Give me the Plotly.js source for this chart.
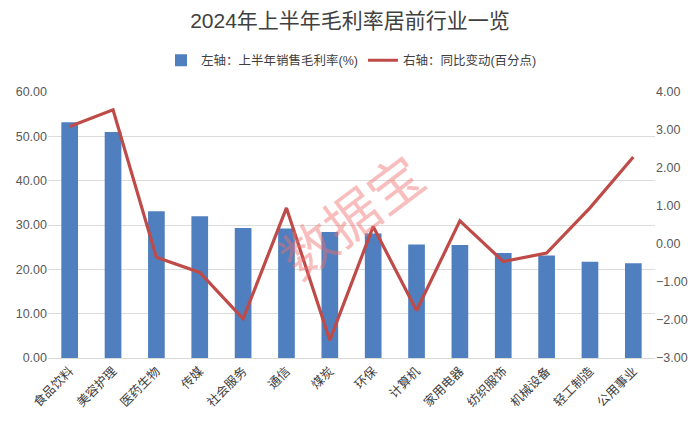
<!DOCTYPE html>
<html>
<head>
<meta charset="utf-8">
<script src="https://cdn.plot.ly/plotly-3.0.1.min.js"></script>
<style>html,body{margin:0;padding:0;background:#fff;}#chart{width:700px;height:425px;}</style>
</head>
<body>
<div id="chart"></div>
<script>
const categories = ["食品饮料","美容护理","医药生物","传媒","社会服务","通信","煤炭","环保","计算机","家用电器","纺织服饰","机械设备","轻工制造","公用事业"];
const grossMargin = [53.2, 51.0, 33.1, 32.0, 29.3, 29.2, 28.4, 28.1, 25.6, 25.5, 23.7, 23.1, 21.7, 21.4];
const yoyChange = [3.09, 3.53, -0.35, -0.75, -1.97, 0.95, -2.53, 0.46, -1.75, 0.61, -0.46, -0.24, 0.95, 2.29];
const leftTicks = [0, 10, 20, 30, 40, 50, 60];
const rightTicks = [-3, -2, -1, 0, 1, 2, 3, 4];

const FONT = "Liberation Sans, Noto Sans CJK SC, sans-serif";
const traces = [
  {
    type: "bar", x: categories, y: grossMargin, name: "左轴：上半年销售毛利率(%)",
    marker: {color: "#4F7FBE"}, yaxis: "y"
  },
  {
    type: "scatter", mode: "lines", x: categories, y: yoyChange, name: "右轴：同比变动(百分点)",
    line: {color: "#BF4B48", width: 3.2}, yaxis: "y2"
  }
];
const layout = {
  width: 700, height: 425,
  margin: {l: 48, r: 45, t: 91.5, b: 67},
  paper_bgcolor: "#fff", plot_bgcolor: "#fff",
  font: {family: FONT, color: "#595959", size: 12.5},
  title: {text: "2024年上半年毛利率居前行业一览", x: 0.5, xanchor: "center", y: 0.951, yanchor: "middle",
          font: {family: FONT, size: 21, color: "#404040"}},
  bargap: 0.615,
  showlegend: true,
  legend: {orientation: "h", x: 0.5, xanchor: "center", y: 1.118, yanchor: "middle",
           font: {family: FONT, size: 12.5, color: "#404040"}, traceorder: "normal", itemwidth: 30},
  xaxis: {tickangle: -45, tickfont: {family: FONT, size: 12.5, color: "#404040"},
          showgrid: false, showline: true, linecolor: "#D9D9D9", linewidth: 1, ticks: ""},
  yaxis: {range: [0, 60], tickvals: leftTicks, tickformat: ".2f", showgrid: true, gridcolor: "#DCDCDC",
          gridwidth: 1, zeroline: false, showline: false, tickfont: {size: 12.5, color: "#595959"}},
  yaxis2: {range: [-3, 4], tickvals: rightTicks, tickformat: ".2f", overlaying: "y", side: "right",
           showgrid: false, zeroline: false, showline: false, tickfont: {size: 12.5, color: "#595959"}},
  annotations: [{
    text: "数据宝", xref: "paper", yref: "paper", x: 0.497, y: 0.54, showarrow: false,
    textangle: -37, font: {family: "Noto Sans CJK SC, sans-serif", size: 54, color: "rgba(240,110,110,0.45)"}
  }]
};
Plotly.newPlot("chart", traces, layout, {displayModeBar: false, staticPlot: true});
</script>
</body>
</html>
